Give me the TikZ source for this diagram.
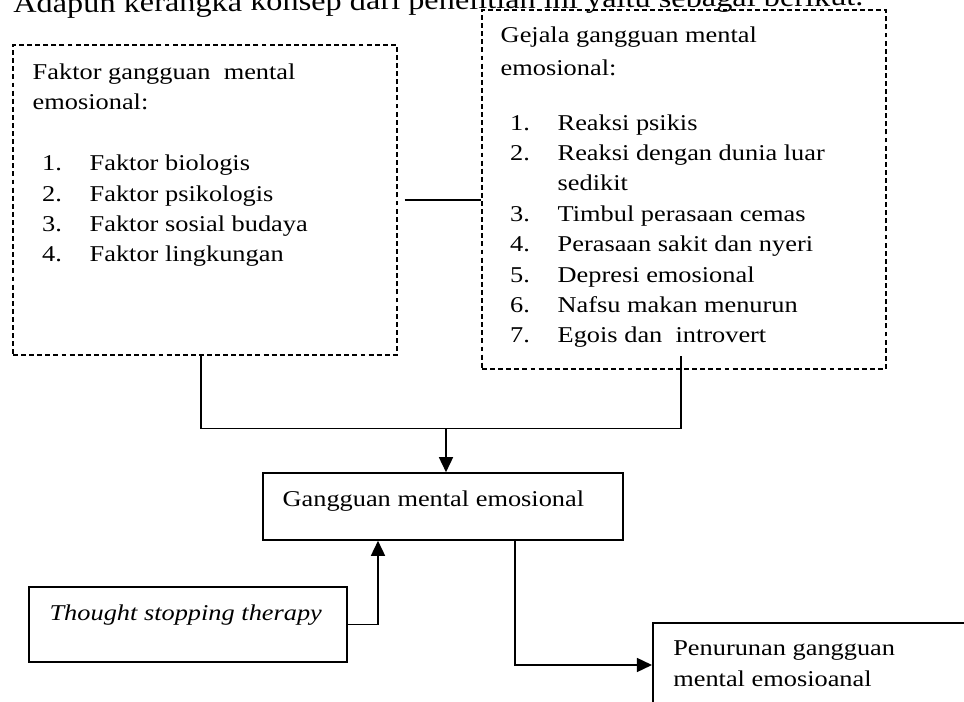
\documentclass[tikz,border=0pt]{standalone}
\usepackage{fontspec}
\usepackage{graphicx}
\setmainfont{Liberation Serif}
\usetikzlibrary{arrows.meta}

\newcommand{\boxfont}{\fontsize{15}{20.2}\selectfont}
\newcommand{\introfont}{\fontsize{18.4}{22}\selectfont}
\newcommand{\squeezetext}[1]{\scalebox{1}[0.857]{#1}}
\newcommand{\listitem}[2]{\hspace*{0.19cm}\makebox[0.95cm][l]{#1}#2}

\begin{document}
\begin{tikzpicture}[x=0.02cm, y=-0.02cm,
    dbox/.style={rectangle, draw, dash pattern=on 2.8pt off 1.8pt, line width=0.75pt},
    box/.style={rectangle, draw, line width=0.9pt},
    txt/.style={inner sep=0pt, anchor=base west, font=\boxfont},
    line/.style={line width=0.85pt},
    arrow/.style={line width=0.85pt, -{Triangle[length=0.3cm, width=0.28cm]}}
]
    \useasboundingbox (0,0) rectangle (964,702);
    \clip (0,0) rectangle (964,702);

    % Intro line, cut at the top
    \node (intro) [inner sep=0pt, anchor=base west, font=\introfont, rotate=0.5] at (13,13)
        {\squeezetext{Adapun kerangka konsep dari penelitian ini yaitu sebagai berikut.}};

    % Factor box
    \node (lbox) [dbox, minimum width=7.68cm, minimum height=6.2cm] at (205,200) {};
    \node (ltext) [txt] at ([shift={(20,35)}]lbox.north west) {\squeezetext{\begin{tabular}[t]{@{}l@{}}
        Faktor gangguan~ mental\\
        emosional:\\[20.2pt]
        \listitem{1.}{Faktor biologis}\\
        \listitem{2.}{Faktor psikologis}\\
        \listitem{3.}{Faktor sosial budaya}\\
        \listitem{4.}{Faktor lingkungan}
    \end{tabular}}};

    % Symptom box
    \node (rbox) [dbox, minimum width=8.08cm, minimum height=7.18cm] at (684,189.5) {};
    \node (rtext) [txt] at ([shift={(19,33)}]rbox.north west) {\squeezetext{\begin{tabular}[t]{@{}l@{}}
        Gejala gangguan mental\\[2pt]
        emosional:\\[15.85pt]
        \listitem{1.}{Reaksi psikis}\\
        \listitem{2.}{Reaksi dengan dunia luar}\\
        \hspace*{1.14cm}sedikit\\
        \listitem{3.}{Timbul perasaan cemas}\\
        \listitem{4.}{Perasaan sakit dan nyeri}\\
        \listitem{5.}{Depresi emosional}\\
        \listitem{6.}{Nafsu makan menurun}\\
        \listitem{7.}{Egois dan~ introvert}
    \end{tabular}}};

    % Lower boxes
    \node (gbox) [box, minimum width=7.2cm, minimum height=1.34cm] at (443,506.5) {};
    \node (gtext) [txt] at ([shift={(20,34)}]gbox.north west) {\squeezetext{Gangguan mental emosional}};

    \node (tbox) [box, minimum width=6.36cm, minimum height=1.5cm] at (188,624.5) {};
    \node (ttext) [txt] at ([shift={(21,34)}]tbox.north west) {\squeezetext{\itshape Thought stopping therapy}};

    \node (pbox) [box, line width=1.2pt, minimum width=6.6cm, minimum height=1.68cm] at (818,665) {};
    \node (ptext) [txt] at ([shift={(21,34)}]pbox.north west) {\squeezetext{\begin{tabular}[t]{@{}l@{}}
        Penurunan gangguan\\
        mental emosioanal
    \end{tabular}}};

    % Flow
    \coordinate (ltop) at ([shift={(-4,0)}]lbox.south);
    \coordinate (rtop) at ([shift={(-3,-14)}]rbox.south);
    \coordinate (mid) at ([shift={(0,73)}]ltop);
    \coordinate (gtop) at ([shift={(3,0)}]gbox.north);

    \draw [line] ([shift={(7,0)}]lbox.east) -- (lbox.east -| rbox.west);
    \draw [line] (ltop) -- (mid) -| (rtop);
    \draw [arrow] (mid -| gtop) -- (gtop);
    \draw [arrow] (tbox.east) -| ([shift={(-65,0)}]gbox.south);
    \draw [arrow] ([shift={(72,0)}]gbox.south) |- (pbox.west);
\end{tikzpicture}
\end{document}
